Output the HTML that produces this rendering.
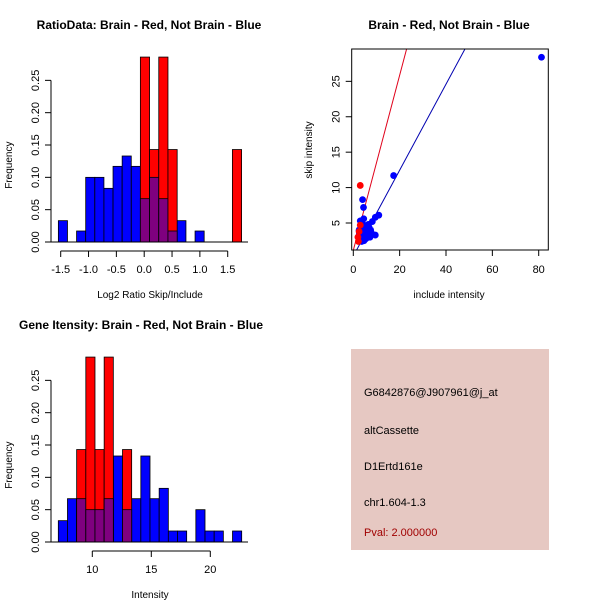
<!DOCTYPE html>
<html><head><meta charset="utf-8"><style>
html,body{margin:0;padding:0;background:#fff;}
svg{display:block;font-family:"Liberation Sans",sans-serif;}
</style></head><body>
<svg id="c" width="600" height="600" viewBox="0 0 600 600" xmlns="http://www.w3.org/2000/svg">
<rect width="600" height="600" fill="#fff"/>
<g id="p1"></g>
<g id="p2"></g>
<g id="p3"></g>
<g>
<rect x="351" y="349" width="198" height="201" fill="#E6C8C2"/>
<text x="364" y="396" font-size="11">G6842876@J907961@j_at</text>
<text x="364" y="434" font-size="11">altCassette</text>
<text x="364" y="470" font-size="11">D1Ertd161e</text>
<text x="364" y="506" font-size="11">chr1.604-1.3</text>
<text x="364" y="536" font-size="11" fill="#A00000">Pval: 2.000000</text>
</g>
</svg>
<script>
// Ratio histogram data
const ratioBlueStart = -1.542;
const ratioBlueWidth = 0.1637;
const ratioBlueFreq = [0.033,0,0.017,0.1,0.1,0.083,0.117,0.133,0.117,0.067,0.1,0.067,0.017,0.033,0,0.017];
const ratioRedStart = -0.069;
const ratioRedWidth = 0.1653;
const ratioRedFreq = [0.286,0.143,0.286,0.143,0,0,0,0,0,0,0.143];
const ratioXTicks = [-1.5,-1.0,-0.5,0.0,0.5,1.0,1.5];
const freqTicks = [0,0.05,0.1,0.15,0.2,0.25];
const freqTickLabels = ["0.00","0.05","0.10","0.15","0.20","0.25"];
// Gene intensity histogram data
const intStart = 7.12;
const intWidth = 0.777;
const intBlueFreq = [0.033,0.067,0.067,0.05,0.05,0.067,0.133,0.05,0.067,0.133,0.067,0.083,0.017,0.017,0,0.05,0.017,0.017,0,0.017];
const intRedFreq = [0,0,0.143,0.286,0.143,0.286,0,0.143,0,0,0,0,0,0,0,0,0,0,0,0];
const intXTicks = [10,15,20];
// Scatter data
const redX = [3.0,2.0,3.0,2.5,2.2];
const redY = [10.3,3.0,4.7,3.8,2.4];
const blueX = [81.2,17.4,4.0,4.4,11.0,9.5,8.2,4.5,3.0,2.5,3.5,4.5,5.5,6.5,7.5,3.0,4.0,5.0,6.0,7.0,5.5,9.5,2.8,3.8,4.8,6.2,5.0,3.2,4.2,7.8,6.8,5.8,3.6,4.6,2.6,7.2,5.2,4.0];
const blueY = [28.4,11.7,8.3,7.2,6.1,5.8,5.2,5.6,5.3,4.0,4.5,4.2,4.4,4.8,4.0,3.3,3.6,3.1,3.5,3.8,2.8,3.3,2.6,2.9,2.6,4.2,4.6,3.0,3.9,3.6,4.4,3.9,2.4,2.5,3.4,3.0,4.0,4.9];
const redLine = [1.236, 1.14];   // slope, intercept
const blueLine = [0.607, 0.32];
const scXTicks = [0,20,40,60,80];
const scYTicks = [5,10,15,20,25];

const NS="http://www.w3.org/2000/svg";
function mk(parent,tag,attrs){const e=document.createElementNS(NS,tag);for(const k in attrs)e.setAttribute(k,attrs[k]);parent.appendChild(e);return e;}
function txt(parent,x,y,s,size,anchor,rot,bold){const t=mk(parent,'text',{x:x,y:y,'font-size':size,'text-anchor':anchor||'middle'});if(rot)t.setAttribute('transform','rotate(-90 '+x+' '+y+')');if(bold)t.setAttribute('font-weight','bold');t.textContent=s;return t;}

function yAxis(g,yS,x){
  mk(g,'line',{x1:x,x2:x,y1:yS(0),y2:yS(0.25),stroke:'#000'});
  freqTicks.forEach((v,i)=>{
    mk(g,'line',{x1:x-6,x2:x,y1:yS(v),y2:yS(v),stroke:'#000'});
    const t=txt(g,x-12,yS(v),freqTickLabels[i],11,'middle',true);
    
    
  });
  const lab=txt(g,12,yS(0.125)+4,'Frequency',10,'middle',true);
  
  
}
function bars(g,start,w,freqs,xS,yS,fill,name){
  freqs.forEach((f,i)=>{
    if(f<=0)return;
    const x0=xS(start+i*w),x1=xS(start+(i+1)*w);
    const r=mk(g,'rect',{x:x0,y:yS(f),width:x1-x0,height:yS(0)-yS(f),fill:fill,stroke:'#000','stroke-width':0.8});
    
    
  });
}

// Panel 1
(function(){
  const g=document.getElementById('p1');
  const xS=v=>60.7+(v+1.5)*55.67, yS=v=>242-v*646.6;
  bars(g,ratioBlueStart,ratioBlueWidth,ratioBlueFreq,xS,yS,'#0000FF','blue-bar');
  ratioRedFreq.forEach((f,i)=>{
    if(f<=0)return;
    const a=ratioRedStart+i*ratioRedWidth, b=a+ratioRedWidth;
    const x0=xS(a),x1=xS(b);
    const r=mk(g,'rect',{x:x0,y:yS(f),width:x1-x0,height:yS(0)-yS(f),fill:'#FF0000',stroke:'#000','stroke-width':0.8});
    
    
    const k=Math.floor((a+ratioRedWidth/2-ratioBlueStart)/ratioBlueWidth);
    const bf=Math.min(f,ratioBlueFreq[k]||0);
    if(bf>0){
      const p=mk(g,'rect',{x:x0,y:yS(bf),width:x1-x0,height:yS(0)-yS(bf),fill:'#7F007F',stroke:'#000','stroke-width':0.8});
      
      
    }
  });
  mk(g,'line',{x1:51,x2:248,y1:242,y2:242,stroke:'#000'});
  yAxis(g,yS,51);
  mk(g,'line',{x1:xS(-1.5),x2:xS(1.5),y1:251,y2:251,stroke:'#000'});
  ratioXTicks.forEach(v=>{
    mk(g,'line',{x1:xS(v),x2:xS(v),y1:251,y2:257,stroke:'#000'});
    const t=txt(g,xS(v),273,v.toFixed(1),11);
    
    
  });
  const xt=txt(g,150,298,'Log2 Ratio Skip/Include',10);
  
  
  const tt=txt(g,149,29,'RatioData: Brain - Red, Not Brain - Blue',12,'middle',false,true);
  
  
})();

// Panel 3
(function(){
  const g=document.getElementById('p3');
  const xS=v=>92.3+(v-10)*11.8, yS=v=>542-v*646.6;
  bars(g,intStart,intWidth,intBlueFreq,xS,yS,'#0000FF','blue-bar');
  intRedFreq.forEach((f,i)=>{
    if(f<=0)return;
    const x0=xS(intStart+i*intWidth),x1=xS(intStart+(i+1)*intWidth);
    const r=mk(g,'rect',{x:x0,y:yS(f),width:x1-x0,height:yS(0)-yS(f),fill:'#FF0000',stroke:'#000','stroke-width':0.8});
    
    
    const bf=Math.min(f,intBlueFreq[i]);
    if(bf>0){
      const p=mk(g,'rect',{x:x0,y:yS(bf),width:x1-x0,height:yS(0)-yS(bf),fill:'#7F007F',stroke:'#000','stroke-width':0.8});
      
      
    }
  });
  mk(g,'line',{x1:51,x2:248,y1:542,y2:542,stroke:'#000'});
  yAxis(g,yS,51);
  mk(g,'line',{x1:xS(10),x2:xS(20),y1:551,y2:551,stroke:'#000'});
  intXTicks.forEach(v=>{
    mk(g,'line',{x1:xS(v),x2:xS(v),y1:551,y2:557,stroke:'#000'});
    const t=txt(g,xS(v),573,String(v),11);
    
    
  });
  const xt=txt(g,150,598,'Intensity',10);
  
  
  const tt=txt(g,141,329,'Gene Itensity: Brain - Red, Not Brain - Blue',12,'middle',false,true);
  
  
})();

// Panel 2
(function(){
  const g=document.getElementById('p2');
  const L=351.7,R=548.3,T=49,B=250;
  const xS=v=>353.3+v*2.3175, yS=v=>223-(v-5)*7.083;
  const cp=mk(g,'clipPath',{id:'clip'});mk(cp,'rect',{x:L,y:T,width:R-L,height:B-T});
  const lg=mk(g,'g',{'clip-path':'url(#clip)'});
  [[redLine,'#E0001A','red-fit-line'],[blueLine,'#0000B0','blue-fit-line']].forEach(([ln,c,n])=>{
    const x0=-1,x1=90;
    const l=mk(lg,'line',{x1:xS(x0),y1:yS(ln[1]+ln[0]*x0),x2:xS(x1),y2:yS(ln[1]+ln[0]*x1),stroke:c,'stroke-width':1});
    
    
  });
  blueX.forEach((x,i)=>{
    const c=mk(lg,'circle',{cx:xS(x),cy:yS(blueY[i]),r:3.4,fill:'#0000FF'});
    
    
  });
  redX.forEach((x,i)=>{
    const c=mk(lg,'circle',{cx:xS(x),cy:yS(redY[i]),r:3.4,fill:'#FF0000'});
    
    
  });
  mk(g,'rect',{x:L,y:T,width:R-L,height:B-T,fill:'none',stroke:'#000'});
  scXTicks.forEach(v=>{
    mk(g,'line',{x1:xS(v),x2:xS(v),y1:B,y2:B+6,stroke:'#000'});
    const t=txt(g,xS(v),273,String(v),11);
    
    
  });
  scYTicks.forEach(v=>{
    mk(g,'line',{x1:L-6,x2:L,y1:yS(v),y2:yS(v),stroke:'#000'});
    const t=txt(g,L-12,yS(v),String(v),11,'middle',true);
    
    
  });
  const xt=txt(g,449,298,'include intensity',10);
  
  
  const yt=txt(g,312,150,'skip intensity',10,'middle',true);
  
  
  const tt=txt(g,449,29,'Brain - Red, Not Brain - Blue',12,'middle',false,true);
  
  
})();
</script>
</body></html>
